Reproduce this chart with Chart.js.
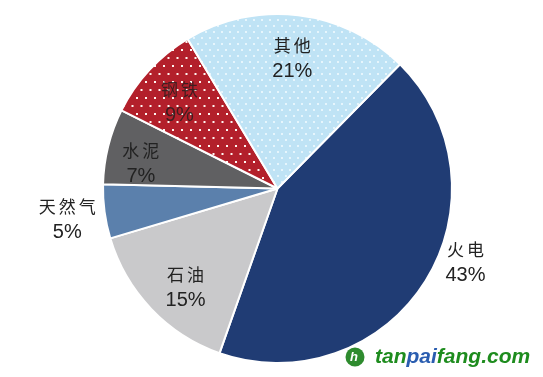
<!DOCTYPE html>
<html>
<head>
<meta charset="utf-8">
<script src="https://cdn.jsdelivr.net/npm/chart.js@4"></script>
<style>
html,body{margin:0;padding:0;background:#fff;}
#wrap{position:relative;width:543px;height:377px;}
</style>
</head>
<body>
<div id="wrap"><canvas id="c" width="543" height="377"></canvas></div>
<script>
const categories = ['火电', '石油', '天然气', '水泥', '钢铁', '其他'];
const values = [43, 15, 5, 7, 9, 21];
const pctLabels = ['43%', '15%', '5%', '7%', '9%', '21%'];

// label placement relative to pie centre, in units of radius (name/percent block centre)
const labelOffsets = [[1.077, 0.422], [-0.527, 0.570], [-1.205, 0.179], [-0.783, -0.145], [-0.562, -0.493], [0.085, -0.744]];

function dotPattern(bg, dot, w, h, r) {
  const p = document.createElement('canvas');
  p.width = w; p.height = h;
  const g = p.getContext('2d');
  g.fillStyle = bg; g.fillRect(0, 0, w, h);
  g.fillStyle = dot;
  const pts = [[1, 1], [1 + w / 2, 1 + h / 2]];
  pts.forEach(([x, y]) => { g.fillRect(x, y, r, r); });
  return g.createPattern(p, 'repeat');
}

const ctx = document.getElementById('c').getContext('2d');
const colors = [
  '#203C74',
  '#C9C9CB',
  '#5B80AC',
  '#606062',
  dotPattern('#B3202B', '#FFF6F2', 9, 16, 2),
  dotPattern('#BFE3F5', '#E6F5FC', 8, 12, 2)
];

const labelPlugin = {
  id: 'labels',
  afterDatasetsDraw(chart) {
    const meta = chart.getDatasetMeta(0);
    const c = chart.ctx;
    meta.data.forEach((arc, i) => {
      const p = arc.getProps(['x', 'y', 'outerRadius'], true);
      const cx = p.x + labelOffsets[i][0] * p.outerRadius;
      const cy = p.y + labelOffsets[i][1] * p.outerRadius;
      c.save();
      c.textAlign = 'center';
      c.textBaseline = 'middle';
      const col = i === 4 ? 'rgba(40,30,30,0.85)' : '#222222';
      c.fillStyle = col;
      c.font = '17px "Noto Sans CJK SC"';
      c.letterSpacing = '3px';
      c.fillText(categories[i], cx + 1.5, cy - 13);
      c.letterSpacing = '0px';
      c.font = '20px "Liberation Sans", Arial, sans-serif';
      c.fillText(pctLabels[i], cx, cy + 13);
      c.restore();
    });
    // watermark
    c.save();
    c.fillStyle = '#2E8B2E';
    c.beginPath(); c.arc(355, 357, 9.5, 0, Math.PI * 2); c.fill();
    c.fillStyle = '#ffffff';
    c.font = 'bold italic 13px "Liberation Sans", Arial, sans-serif';
    c.textAlign = 'center'; c.textBaseline = 'middle';
    c.fillText('h', 354, 357);
    c.textAlign = 'left';
    c.font = 'bold italic 21px "Liberation Sans", Arial, sans-serif';
    let x = 375;
    const parts = [['tan', '#1E8C1E'], ['pai', '#2A5DB0'], ['fang.com', '#1E8C1E']];
    parts.forEach(([t, col]) => {
      c.fillStyle = col;
      c.fillText(t, x, 357);
      x += c.measureText(t).width;
    });
    c.restore();
  }
};

new Chart(ctx, {
  type: 'pie',
  data: {
    labels: categories,
    datasets: [{
      data: values,
      backgroundColor: colors,
      borderColor: '#ffffff',
      borderWidth: 2,
      hoverOffset: 0
    }]
  },
  options: {
    responsive: false,
    animation: false,
    rotation: 44.6,
    layout: { padding: { left: 102, right: 90, top: 13, bottom: 13 } },
    plugins: { legend: { display: false }, tooltip: { enabled: false } }
  },
  plugins: [labelPlugin]
});
</script>
</body>
</html>
